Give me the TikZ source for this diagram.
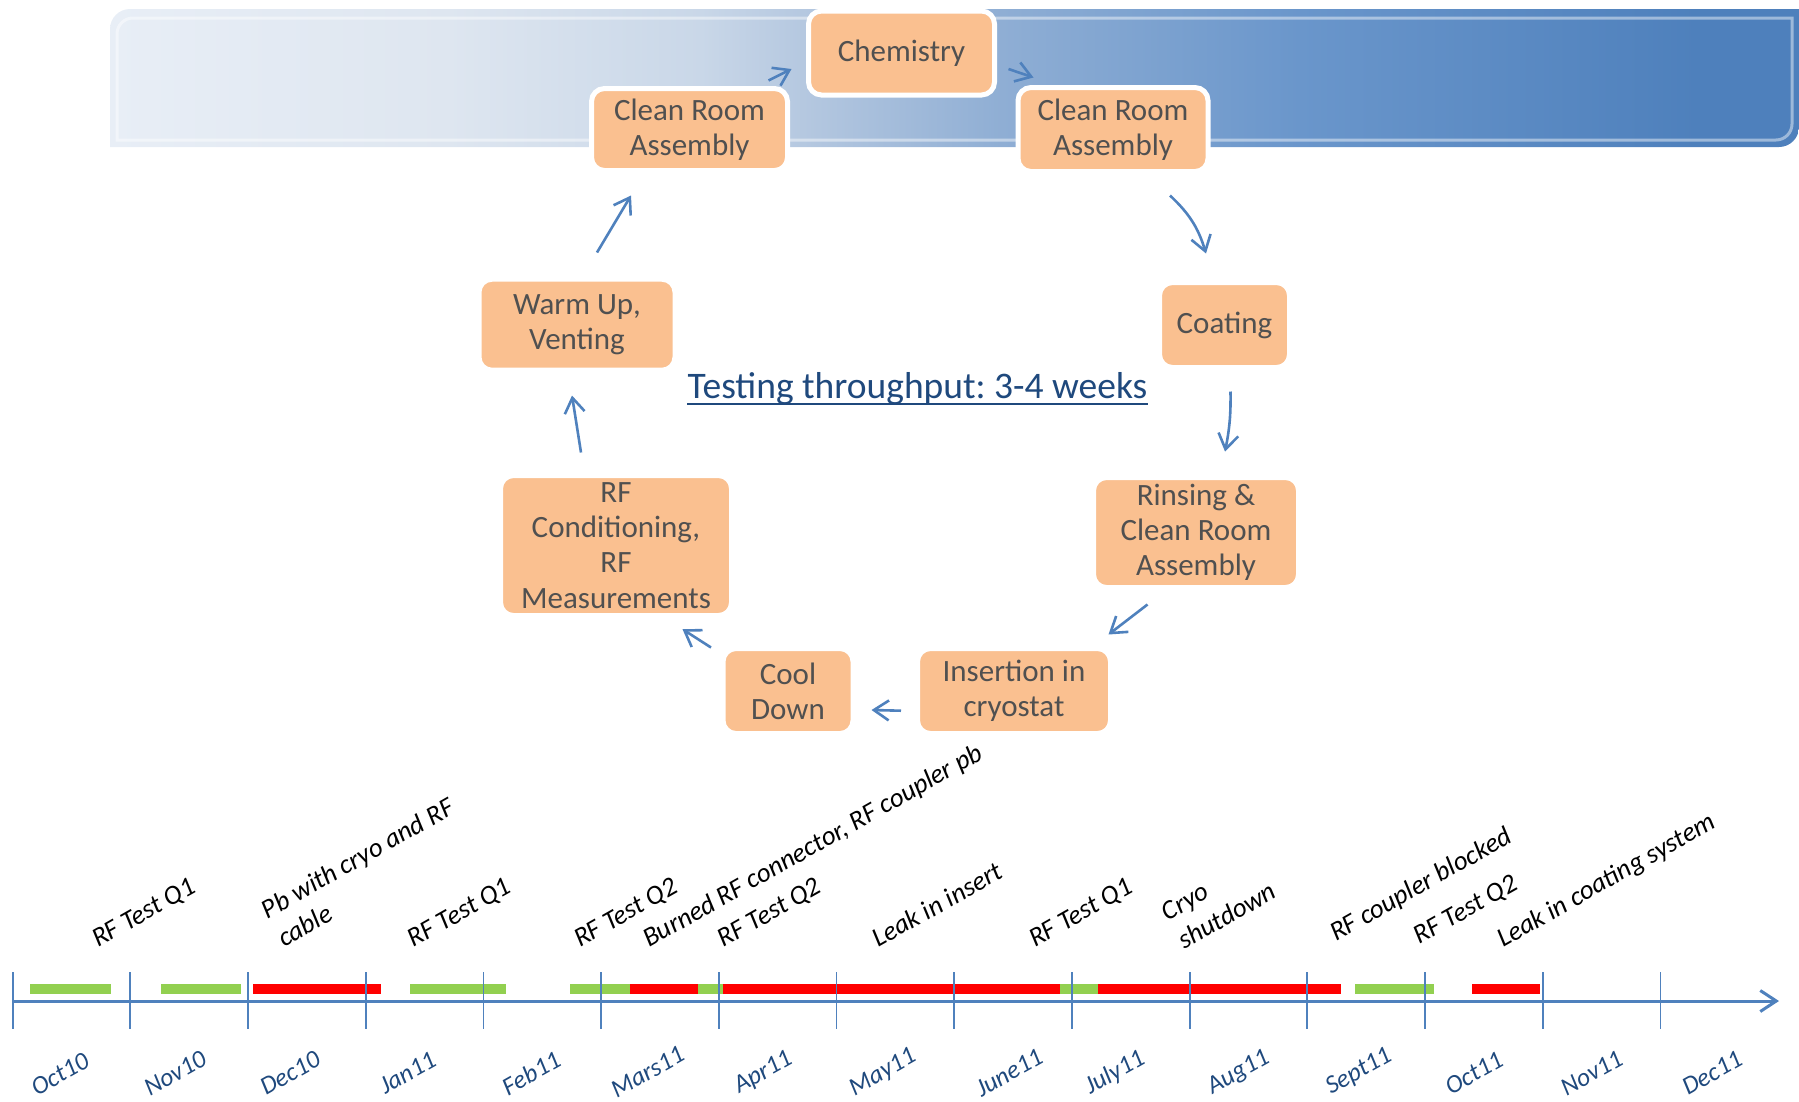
\documentclass[tikz,border=0pt]{standalone}
\usepackage{fontspec}
\setmainfont{Carlito}
\frenchspacing
\usetikzlibrary{arrows.meta,calc}
\definecolor{peach}{HTML}{FAC090}
\definecolor{boxtext}{HTML}{505050}
\definecolor{arrowblue}{HTML}{4F81BD}
\definecolor{titleblue}{HTML}{1F497D}
\definecolor{barGreen}{HTML}{92D050}
\definecolor{barRed}{HTML}{FF0000}
\definecolor{bnA}{HTML}{E8EEF6}
\definecolor{bnB}{HTML}{DEE6F0}
\definecolor{bnC}{HTML}{C9D7E8}
\definecolor{bnD}{HTML}{B5C8E0}
\definecolor{bnE}{HTML}{8FAED4}
\definecolor{bnF}{HTML}{6A96CB}
\definecolor{bnG}{HTML}{4E80BC}
\pgfdeclarehorizontalshading{bannershade}{100bp}{color(0bp)=(bnA); color(25bp)=(bnA); color(35bp)=(bnB); color(42.5bp)=(bnC); color(45.5bp)=(bnD); color(51.4bp)=(bnE); color(60.2bp)=(bnF); color(72bp)=(bnG); color(100bp)=(bnG)}
\tikzset{
  procbox/.style={rectangle, rounded corners=13pt, fill=peach, draw=white, line width=5pt,
    text=boxtext, align=center, inner sep=0pt, font=\fontsize{31}{35.3}\selectfont},
  flowarrow/.style={draw=arrowblue, line width=2.6pt, -{Straight Barb[length=15pt,width=20pt]}},
  axisline/.style={draw=arrowblue, line width=3pt, -{Straight Barb[length=16pt,width=21pt]}},
  tickline/.style={draw=arrowblue, line width=1.8pt},
  evt/.style={font=\itshape\fontsize{27}{33}\selectfont, rotate=29.5, anchor=base west, inner sep=0pt, align=left, text=black},
  month/.style={font=\itshape\fontsize{25.5}{30}\selectfont, rotate=29.5, inner sep=0pt, text=titleblue},
  titlestyle/.style={font=\fontsize{37.5}{42}\selectfont, text=titleblue, inner sep=0pt},
}
\begin{document}
\begin{tikzpicture}[x=1pt,y=-1pt]
\useasboundingbox (0,0) rectangle (1799,1101);
% banner
\shade[shading=bannershade] (110,147) -- (110,29) arc[start angle=180,end angle=270,radius=20] -- (1799,9) -- (1799,127) arc[start angle=0,end angle=90,radius=20] -- cycle;
\draw[white, opacity=0.45, line width=3pt] (117,140) -- (117,34) arc[start angle=180,end angle=270,radius=16] -- (1792,18) -- (1792,124) arc[start angle=0,end angle=90,radius=16] -- cycle;

% process boxes
\node[procbox, minimum width=186pt, minimum height=84pt] (chem) at (901.5,53) {Chemistry};
\node[procbox, minimum width=196pt, minimum height=82pt] (crl) at (689.5,129.5) {Clean Room\\Assembly};
\node[procbox, minimum width=190pt, minimum height=84pt] (crr) at (1113,129.5) {Clean Room\\Assembly};
\node[procbox, minimum width=130pt, minimum height=85pt] (coat) at (1224.5,325) {Coating};
\node[procbox, minimum width=205pt, minimum height=110pt] (rins) at (1196,532.5) {Rinsing \&\\Clean Room\\Assembly};
\node[procbox, minimum width=193pt, minimum height=85pt] (ins) at (1014,691) {Insertion in\\cryostat};
\node[procbox, minimum width=130pt, minimum height=85pt] (cool) at (788,691) {Cool\\Down};
\node[procbox, minimum width=231pt, minimum height=140pt] (rfc) at (616,545.5) {RF\\Conditioning,\\RF\\Measurements};
\node[procbox, minimum width=196pt, minimum height=91pt] (warm) at (577,324.7) {Warm Up,\\Venting};

% cycle arrows
\draw[flowarrow] ($(crl.north east)+(-21.5,-5.5)$) -- ($(chem.west)+(-14.5,16)$);
\draw[flowarrow] ($(chem.east)+(11.5,16)$) -- ($(crr.north west)+(18,-7.5)$);
\draw[flowarrow] ($(crr.south)+(57,21.5)$) to[bend left=15] ($(coat.north)+(-18.5,-26.5)$);
\draw[flowarrow] ($(coat.south)+(6,21.5)$) to[bend left=6] ($(rins.north)+(29,-23.5)$);
\draw[flowarrow] ($(rins.south)+(-48.5,14.5)$) -- ($(ins.north)+(94.5,-11.5)$);
\draw[flowarrow] ($(ins.west)+(-14,19.7)$) -- ($(cool.east)+(16,19)$);
\draw[flowarrow] ($(cool.north)+(-77,1.5)$) -- ($(rfc.south)+(66.5,11.2)$);
\draw[flowarrow] ($(rfc.north)+(-35,-20.5)$) -- ($(warm.south)+(-5,22.8)$);
\draw[flowarrow] ($(warm.north)+(20,-24.2)$) -- ($(crl.south)+(-58.5,22.5)$);

% title
\node[titlestyle, anchor=base] (title) at (917.5,398) {Testing throughput: 3-4 weeks};
\draw[titleblue, line width=2pt] ($(title.base west)+(0,6)$) -- ($(title.base east)+(0,6)$);

% timeline bars
\fill[barGreen] (29.9,984) rectangle (110.8,993.5);
\fill[barGreen] (160.7,984) rectangle (241.1,993.5);
\fill[barRed] (253.2,984) rectangle (381.2,993.5);
\fill[barGreen] (409.9,984) rectangle (506.3,993.5);
\fill[barGreen] (570,984) rectangle (630.3,993.5);
\fill[barRed] (630.3,984) rectangle (698,993.5);
\fill[barGreen] (698,984) rectangle (723.3,993.5);
\fill[barRed] (723.3,984) rectangle (1060.2,993.5);
\fill[barGreen] (1060.2,984) rectangle (1097.5,993.5);
\fill[barRed] (1097.5,984) rectangle (1341.4,993.5);
\fill[barGreen] (1354.7,984) rectangle (1434.4,993.5);
\fill[barRed] (1471.8,984) rectangle (1540,993.5);

% axis and ticks
\coordinate (axstart) at (12.6,1001);
\coordinate (axend) at (1779,1001);
\draw[axisline] (axstart) -- (axend);
\foreach \k in {0,...,14} {
  \draw[tickline] ({12.6+117.7*\k},972) -- ({12.6+117.7*\k},1029);
}

% event labels
\node[evt] (e1) at (98,948) {RF Test Q1};
\node[evt] (e2) at (284,948) {Pb with cryo and RF\\cable};
\node[evt] (e3) at (413.5,948) {RF Test Q1};
\node[evt] (e4) at (580,948) {RF Test Q2};
\node[evt] (e5) at (649,948) {Burned RF connector, RF coupler pb};
\node[evt] (e6) at (723.5,948) {RF Test Q2};
\node[evt] (e7) at (878.5,948) {Leak in insert};
\node[evt] (e8) at (1035,948) {RF Test Q1};
\node[evt] (e9) at (1184,950) {Cryo\\shutdown};
\node[evt] (e10) at (1336,942) {RF coupler blocked};
\node[evt] (e11) at (1419.7,945) {RF Test Q2};
\node[evt] (e12) at (1503,948) {Leak in coating system};

% month labels
\node[month] (m1) at (60,1074) {Oct10};
\node[month] (m2) at (175,1073) {Nov10};
\node[month] (m3) at (290,1073) {Dec10};
\node[month] (m4) at (407.6,1073) {Jan11};
\node[month] (m5) at (531,1073) {Feb11};
\node[month] (m6) at (647.5,1072) {Mars11};
\node[month] (m7) at (763.5,1073) {Apr11};
\node[month] (m8) at (883,1073) {May11};
\node[month] (m9) at (1009,1073) {June11};
\node[month] (m10) at (1115,1073) {July11};
\node[month] (m11) at (1238.7,1073) {Aug11};
\node[month] (m12) at (1359,1072) {Sept11};
\node[month] (m13) at (1474,1073) {Oct11};
\node[month] (m14) at (1591.7,1073) {Nov11};
\node[month] (m15) at (1712,1073) {Dec11};
\end{tikzpicture}
\end{document}
